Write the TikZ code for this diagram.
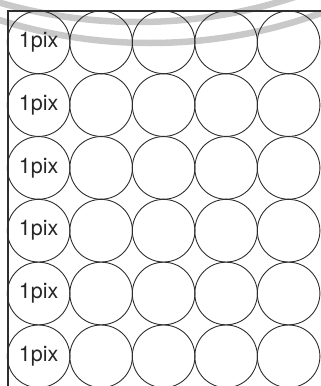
\documentclass[tikz,border=0pt]{standalone}
\usepackage{fontspec}
\setmainfont{TeX Gyre Heros}
\definecolor{bandgray}{HTML}{C9C9C9}
\definecolor{linegray}{HTML}{2E2E2E}
\begin{document}
\begin{tikzpicture}[x=1pt,y=-1pt,
  band/.style={draw=bandgray,line width=6.5pt},
  frame/.style={draw=linegray,line width=1.2pt},
  cell/.style={circle,draw=linegray,line width=0.9pt,minimum size=62.6pt,inner sep=0pt,
    font=\fontsize{21.5}{21.5}\selectfont,text=black!85}]
\useasboundingbox (0,0) rectangle (321,386);
\clip (0,0) rectangle (321,386);
% background bands (light gray arcs)
\draw[band] (138,-478) circle (500);
\draw[band] (150,-458) circle (501);
% frame
\draw[frame] (8,400) -- (8,11) -- (340,11);
% grid of circles
\foreach \r in {1,...,6}{
  \foreach \c in {1,...,5}{
    \pgfmathsetmacro{\cx}{38.6+62.5*(\c-1)}
    \pgfmathsetmacro{\cy}{42.3+62.8*(\r-1)}
    \ifnum\c=1
      \node[cell] (c-\r-\c) at (\cx,\cy) {1pix};
    \else
      \node[cell] (c-\r-\c) at (\cx,\cy) {};
    \fi
  }
}
\end{tikzpicture}
\end{document}
